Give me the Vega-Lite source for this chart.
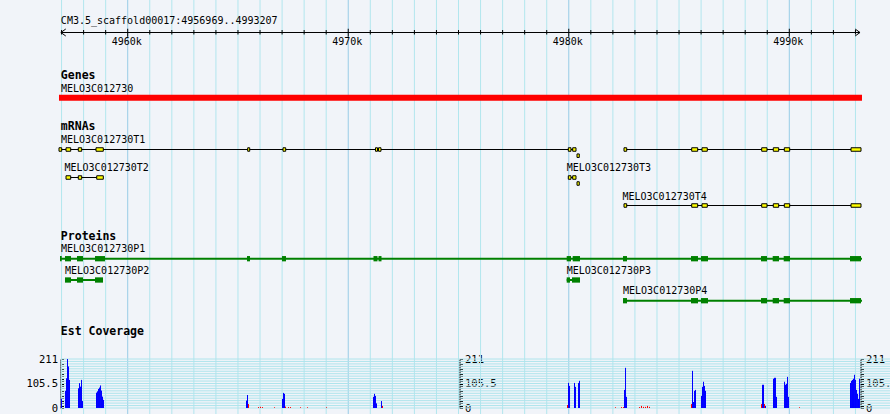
{
  "$schema": "https://vega.github.io/schema/vega-lite/v6.json",
  "width": 890,
  "height": 414,
  "autosize": {"type": "none"},
  "padding": 0,
  "background": "#f1f4f9",
  "config": {"view": {"stroke": null}, "text": {"font": "DejaVu Sans Mono"}, "axis": {"labelFont": "DejaVu Sans Mono"}, "scale": {"continuousPadding": 0}},
  "datasets": {
    "region": [{"chrom": "CM3.5_scaffold00017", "start": 4956969, "end": 4993207, "label": "CM3.5_scaffold00017:4956969..4993207"}],
    "rulerticks": [{"pos":4957000},{"pos":4958000},{"pos":4959000},{"pos":4960000,"label":"4960k"},{"pos":4961000},{"pos":4962000},{"pos":4963000},{"pos":4964000},{"pos":4965000},{"pos":4966000},{"pos":4967000},{"pos":4968000},{"pos":4969000},{"pos":4970000,"label":"4970k"},{"pos":4971000},{"pos":4972000},{"pos":4973000},{"pos":4974000},{"pos":4975000},{"pos":4976000},{"pos":4977000},{"pos":4978000},{"pos":4979000},{"pos":4980000,"label":"4980k"},{"pos":4981000},{"pos":4982000},{"pos":4983000},{"pos":4984000},{"pos":4985000},{"pos":4986000},{"pos":4987000},{"pos":4988000},{"pos":4989000},{"pos":4990000,"label":"4990k"},{"pos":4991000},{"pos":4992000},{"pos":4993000}],
    "genes": [{"name": "MELO3C012730", "start": 4956884, "end": 4993296}],
    "mrnas": [
      {"tx": "T1", "name": "MELO3C012730T1", "start": 4956884, "end": 4993251},
      {"tx": "T2", "name": "MELO3C012730T2", "start": 4957202, "end": 4958893},
      {"tx": "T3", "name": "MELO3C012730T3", "start": 4979979, "end": 4980477},
      {"tx": "T4", "name": "MELO3C012730T4", "start": 4982504, "end": 4993251}
    ],
    "tx_segments": [
      {"tx": "T1", "start": 4956884, "end": 4980328},
      {"tx": "T1", "start": 4982504, "end": 4993251},
      {"tx": "T2", "start": 4957202, "end": 4958893},
      {"tx": "T3", "start": 4979979, "end": 4980328},
      {"tx": "T4", "start": 4982504, "end": 4993251}
    ],
    "exons": [
      {"tx":"T1","start":4956884,"end":4957007},
      {"tx":"T1","start":4957202,"end":4957415},
      {"tx":"T1","start":4957760,"end":4957914},
      {"tx":"T1","start":4958562,"end":4958893},
      {"tx":"T1","start":4965441,"end":4965532},
      {"tx":"T1","start":4967042,"end":4967164},
      {"tx":"T1","start":4971236,"end":4971327},
      {"tx":"T1","start":4971372,"end":4971485},
      {"tx":"T1","start":4979979,"end":4980101},
      {"tx":"T1","start":4980178,"end":4980328},
      {"tx":"T1","start":4980373,"end":4980477,"drop":true},
      {"tx":"T1","start":4982504,"end":4982627},
      {"tx":"T1","start":4985574,"end":4985846},
      {"tx":"T1","start":4986041,"end":4986282},
      {"tx":"T1","start":4988748,"end":4988989},
      {"tx":"T1","start":4989274,"end":4989519},
      {"tx":"T1","start":4989773,"end":4990018},
      {"tx":"T1","start":4992798,"end":4993251},
      {"tx":"T2","start":4957202,"end":4957415},
      {"tx":"T2","start":4957760,"end":4957914},
      {"tx":"T2","start":4958594,"end":4958893},
      {"tx":"T3","start":4979979,"end":4980101},
      {"tx":"T3","start":4980178,"end":4980328},
      {"tx":"T3","start":4980373,"end":4980477,"drop":true},
      {"tx":"T4","start":4982504,"end":4982627},
      {"tx":"T4","start":4985574,"end":4985846},
      {"tx":"T4","start":4986041,"end":4986282},
      {"tx":"T4","start":4988748,"end":4988989},
      {"tx":"T4","start":4989274,"end":4989519},
      {"tx":"T4","start":4989773,"end":4990018},
      {"tx":"T4","start":4992798,"end":4993251}
    ],
    "proteins": [
      {"tx": "P1", "name": "MELO3C012730P1", "start": 4956930, "end": 4993296},
      {"tx": "P2", "name": "MELO3C012730P2", "start": 4957156, "end": 4958880},
      {"tx": "P3", "name": "MELO3C012730P3", "start": 4979906, "end": 4980509},
      {"tx": "P4", "name": "MELO3C012730P4", "start": 4982459, "end": 4993296}
    ],
    "cds": [
      {"tx":"P1","start":4956930,"end":4957007},
      {"tx":"P1","start":4957156,"end":4957428},
      {"tx":"P1","start":4957701,"end":4957973},
      {"tx":"P1","start":4958517,"end":4958970},
      {"tx":"P1","start":4965409,"end":4965545},
      {"tx":"P1","start":4966996,"end":4967178},
      {"tx":"P1","start":4971145,"end":4971327},
      {"tx":"P1","start":4971372,"end":4971508},
      {"tx":"P1","start":4979906,"end":4980101},
      {"tx":"P1","start":4980178,"end":4980509},
      {"tx":"P1","start":4982459,"end":4982640},
      {"tx":"P1","start":4985542,"end":4985860},
      {"tx":"P1","start":4985996,"end":4986313},
      {"tx":"P1","start":4988717,"end":4988989},
      {"tx":"P1","start":4989247,"end":4989533},
      {"tx":"P1","start":4989746,"end":4990032},
      {"tx":"P1","start":4992752,"end":4993251},
      {"tx":"P2","start":4957156,"end":4957428},
      {"tx":"P2","start":4957701,"end":4957973},
      {"tx":"P2","start":4958517,"end":4958880},
      {"tx":"P3","start":4979906,"end":4980056},
      {"tx":"P3","start":4980146,"end":4980509},
      {"tx":"P4","start":4982459,"end":4982640},
      {"tx":"P4","start":4985542,"end":4985860},
      {"tx":"P4","start":4985996,"end":4986313},
      {"tx":"P4","start":4988717,"end":4988989},
      {"tx":"P4","start":4989247,"end":4989533},
      {"tx":"P4","start":4989746,"end":4990032},
      {"tx":"P4","start":4992752,"end":4993251}
    ],
    "covticks": [{"v":0},{"v":10.55},{"v":21.1},{"v":31.65},{"v":42.2},{"v":52.75},{"v":63.3},{"v":73.85},{"v":84.4},{"v":94.95},{"v":105.5},{"v":116.05},{"v":126.6},{"v":137.15},{"v":147.7},{"v":158.25},{"v":168.8},{"v":179.35},{"v":189.9},{"v":200.45},{"v":211}],
    "coverage": [
      {"pos":4956998,"cov":40,"strand":"+"},
      {"pos":4957179,"cov":74,"strand":"+"},
      {"pos":4957225,"cov":128,"strand":"+"},
      {"pos":4957270,"cov":211,"strand":"+"},
      {"pos":4957316,"cov":179,"strand":"+"},
      {"pos":4957361,"cov":121,"strand":"+"},
      {"pos":4957769,"cov":85,"strand":"+"},
      {"pos":4957814,"cov":107,"strand":"+"},
      {"pos":4957860,"cov":92,"strand":"+"},
      {"pos":4957905,"cov":121,"strand":"+"},
      {"pos":4957950,"cov":30,"strand":"+"},
      {"pos":4958585,"cov":66,"strand":"+"},
      {"pos":4958630,"cov":72,"strand":"+"},
      {"pos":4958676,"cov":82,"strand":"+"},
      {"pos":4958721,"cov":88,"strand":"+"},
      {"pos":4958767,"cov":97,"strand":"+"},
      {"pos":4958812,"cov":75,"strand":"+"},
      {"pos":4958857,"cov":49,"strand":"+"},
      {"pos":4958903,"cov":35,"strand":"+"},
      {"pos":4965387,"cov":32,"strand":"+"},
      {"pos":4965432,"cov":56,"strand":"+"},
      {"pos":4967019,"cov":39,"strand":"+"},
      {"pos":4967065,"cov":65,"strand":"+"},
      {"pos":4967110,"cov":61,"strand":"+"},
      {"pos":4971146,"cov":48,"strand":"+"},
      {"pos":4971191,"cov":61,"strand":"+"},
      {"pos":4971236,"cov":52,"strand":"+"},
      {"pos":4971282,"cov":20,"strand":"+"},
      {"pos":4971508,"cov":30,"strand":"+"},
      {"pos":4979988,"cov":108,"strand":"+"},
      {"pos":4980034,"cov":95,"strand":"+"},
      {"pos":4980260,"cov":108,"strand":"+"},
      {"pos":4980306,"cov":91,"strand":"+"},
      {"pos":4980442,"cov":108,"strand":"+"},
      {"pos":4980487,"cov":117,"strand":"+"},
      {"pos":4982527,"cov":78,"strand":"+"},
      {"pos":4982573,"cov":173,"strand":"+"},
      {"pos":4982618,"cov":48,"strand":"+"},
      {"pos":4985611,"cov":160,"strand":"+"},
      {"pos":4985656,"cov":26,"strand":"+"},
      {"pos":4985701,"cov":74,"strand":"+"},
      {"pos":4985747,"cov":78,"strand":"+"},
      {"pos":4986019,"cov":52,"strand":"+"},
      {"pos":4986064,"cov":91,"strand":"+"},
      {"pos":4986110,"cov":113,"strand":"+"},
      {"pos":4986155,"cov":95,"strand":"+"},
      {"pos":4986200,"cov":74,"strand":"+"},
      {"pos":4988785,"cov":100,"strand":"+"},
      {"pos":4988830,"cov":100,"strand":"+"},
      {"pos":4988921,"cov":9,"strand":"+"},
      {"pos":4989284,"cov":126,"strand":"+"},
      {"pos":4989329,"cov":130,"strand":"+"},
      {"pos":4989374,"cov":130,"strand":"+"},
      {"pos":4989420,"cov":48,"strand":"+"},
      {"pos":4989783,"cov":113,"strand":"+"},
      {"pos":4989828,"cov":100,"strand":"+"},
      {"pos":4989873,"cov":104,"strand":"+"},
      {"pos":4989919,"cov":134,"strand":"+"},
      {"pos":4989964,"cov":48,"strand":"+"},
      {"pos":4992775,"cov":108,"strand":"+"},
      {"pos":4992821,"cov":117,"strand":"+"},
      {"pos":4992866,"cov":121,"strand":"+"},
      {"pos":4992911,"cov":126,"strand":"+"},
      {"pos":4992957,"cov":143,"strand":"+"},
      {"pos":4993002,"cov":121,"strand":"+"},
      {"pos":4993048,"cov":78,"strand":"+"},
      {"pos":4993093,"cov":61,"strand":"+"},
      {"pos":4993138,"cov":39,"strand":"+"},
      {"pos":4993184,"cov":126,"strand":"+"},
      {"pos":4965478,"cov":17,"strand":"-"},
      {"pos":4965931,"cov":4,"strand":"-"},
      {"pos":4966022,"cov":5,"strand":"-"},
      {"pos":4966112,"cov":4,"strand":"-"},
      {"pos":4966657,"cov":3,"strand":"-"},
      {"pos":4967155,"cov":6,"strand":"-"},
      {"pos":4967291,"cov":4,"strand":"-"},
      {"pos":4967382,"cov":4,"strand":"-"},
      {"pos":4967836,"cov":3,"strand":"-"},
      {"pos":4968153,"cov":3,"strand":"-"},
      {"pos":4969015,"cov":3,"strand":"-"},
      {"pos":4971554,"cov":9,"strand":"-"},
      {"pos":4979943,"cov":13,"strand":"-"},
      {"pos":4982119,"cov":3,"strand":"-"},
      {"pos":4982391,"cov":4,"strand":"-"},
      {"pos":4982482,"cov":4,"strand":"-"},
      {"pos":4983208,"cov":4,"strand":"-"},
      {"pos":4983298,"cov":9,"strand":"-"},
      {"pos":4983389,"cov":5,"strand":"-"},
      {"pos":4983480,"cov":5,"strand":"-"},
      {"pos":4983570,"cov":9,"strand":"-"},
      {"pos":4983661,"cov":5,"strand":"-"},
      {"pos":4985565,"cov":17,"strand":"-"},
      {"pos":4988740,"cov":17,"strand":"-"},
      {"pos":4988876,"cov":17,"strand":"-"},
      {"pos":4990463,"cov":3,"strand":"-"}
    ]
  },
  "resolve": {"scale": {"y": "independent"}},
  "layer": [
    {
      "layer": [
        {
          "data": {"name": "rulerticks"},
          "mark": {"type": "rule", "strokeWidth": 1},
          "encoding": {
            "x": {"field": "pos", "type": "quantitative",
              "scale": {"domain": [4954209, 4994566], "nice": false, "zero": false, "padding": 0}, "axis": null},
            "y": {"datum": 0, "type": "quantitative", "scale": {"domain": [414, 0], "nice": false, "zero": false, "padding": 0}, "axis": null},
            "y2": {"datum": 414},
            "color": {"condition": {"test": "datum.pos % 10000 === 0", "value": "#98cce6"}, "value": "#b2e6ee"}
          }
        },
        {
          "data": {"name": "genes"},
          "mark": {"type": "bar", "color": "#ff0000", "size": 6},
          "encoding": {
            "x": {"field": "start", "type": "quantitative", "axis": null},
            "x2": {"field": "end"},
            "y": {"datum": 97.8, "type": "quantitative"}
          }
        },
        {
          "data": {"name": "genes"},
          "mark": {"type": "text", "align": "left", "baseline": "middle", "fontSize": 10, "dx": 2, "color": "#000000"},
          "encoding": {
            "x": {"field": "start", "type": "quantitative", "axis": null},
            "y": {"datum": 88.5, "type": "quantitative"},
            "text": {"field": "name"}
          }
        },
        {
          "data": {"name": "region"},
          "mark": {"type": "rule", "color": "#000000", "strokeWidth": 1},
          "encoding": {
            "x": {"field": "start", "type": "quantitative", "axis": null},
            "x2": {"field": "end"},
            "y": {"datum": 32.5, "type": "quantitative"}
          }
        },
        {
          "data": {"name": "region"},
          "mark": {"type": "text", "align": "left", "baseline": "middle", "fontSize": 10, "color": "#000000"},
          "encoding": {
            "x": {"field": "start", "type": "quantitative", "axis": null},
            "y": {"datum": 21, "type": "quantitative"},
            "text": {"field": "label"}
          }
        },
        {
          "data": {"name": "region"},
          "mark": {"type": "point", "shape": "M 1.4 -1 L 0 0 L 1.4 1", "filled": false, "stroke": "#000000", "strokeWidth": 1, "size": 49, "opacity": 1},
          "encoding": {
            "x": {"field": "start", "type": "quantitative", "axis": null},
            "y": {"datum": 32.5, "type": "quantitative"}
          }
        },
        {
          "data": {"name": "region"},
          "mark": {"type": "point", "shape": "M -1.4 -1 L 0 0 L -1.4 1", "filled": false, "stroke": "#000000", "strokeWidth": 1, "size": 49, "opacity": 1},
          "encoding": {
            "x": {"field": "end", "type": "quantitative", "axis": null},
            "y": {"datum": 32.5, "type": "quantitative"}
          }
        },
        {
          "data": {"name": "rulerticks"},
          "transform": [{"filter": "datum.pos % 10000 !== 0"}],
          "mark": {"type": "tick", "orient": "vertical", "size": 4.6, "thickness": 1, "color": "#000000", "opacity": 1},
          "encoding": {
            "x": {"field": "pos", "type": "quantitative", "axis": null},
            "y": {"datum": 32.3, "type": "quantitative"}
          }
        },
        {
          "data": {"name": "rulerticks"},
          "transform": [{"filter": "datum.pos % 10000 === 0"}],
          "mark": {"type": "tick", "orient": "vertical", "size": 8, "thickness": 1, "color": "#000000", "opacity": 1},
          "encoding": {
            "x": {"field": "pos", "type": "quantitative", "axis": null},
            "y": {"datum": 32.7, "type": "quantitative"}
          }
        },
        {
          "data": {"name": "rulerticks"},
          "transform": [{"filter": "datum.pos % 10000 === 0"}],
          "mark": {"type": "text", "align": "center", "baseline": "middle", "fontSize": 10, "dx": -1, "color": "#000000"},
          "encoding": {
            "x": {"field": "pos", "type": "quantitative", "axis": null},
            "y": {"datum": 42, "type": "quantitative"},
            "text": {"field": "label"}
          }
        },
        {
          "data": {"values": [{"track": "Genes"}]},
          "mark": {"type": "text", "align": "left", "baseline": "middle", "fontSize": 11.5, "fontWeight": "bold", "color": "#000000"},
          "encoding": {"x": {"datum": 4956969, "type": "quantitative", "axis": null}, "y": {"datum": 76.3, "type": "quantitative"}, "text": {"field": "track"}}
        },
        {
          "data": {"values": [{"track": "mRNAs"}]},
          "mark": {"type": "text", "align": "left", "baseline": "middle", "fontSize": 11.5, "fontWeight": "bold", "color": "#000000"},
          "encoding": {"x": {"datum": 4956969, "type": "quantitative", "axis": null}, "y": {"datum": 127.3, "type": "quantitative"}, "text": {"field": "track"}}
        },
        {
          "data": {"values": [{"track": "Proteins"}]},
          "mark": {"type": "text", "align": "left", "baseline": "middle", "fontSize": 11.5, "fontWeight": "bold", "color": "#000000"},
          "encoding": {"x": {"datum": 4956969, "type": "quantitative", "axis": null}, "y": {"datum": 236.7, "type": "quantitative"}, "text": {"field": "track"}}
        },
        {
          "data": {"values": [{"track": "Est Coverage"}]},
          "mark": {"type": "text", "align": "left", "baseline": "middle", "fontSize": 11.5, "fontWeight": "bold", "color": "#000000"},
          "encoding": {"x": {"datum": 4956969, "type": "quantitative", "axis": null}, "y": {"datum": 332.3, "type": "quantitative"}, "text": {"field": "track"}}
        },
        {
          "data": {"name": "tx_segments"},
          "transform": [{"filter": "datum.tx === 'T1'"}],
          "mark": {"type": "rule", "color": "#000000", "strokeWidth": 1},
          "encoding": {"x": {"field": "start", "type": "quantitative", "axis": null}, "x2": {"field": "end"}, "y": {"datum": 149.5, "type": "quantitative"}}
        },
        {
          "data": {"name": "tx_segments"},
          "transform": [{"filter": "datum.tx === 'T2' || datum.tx === 'T3'"}],
          "mark": {"type": "rule", "color": "#000000", "strokeWidth": 1},
          "encoding": {"x": {"field": "start", "type": "quantitative", "axis": null}, "x2": {"field": "end"}, "y": {"datum": 177.5, "type": "quantitative"}}
        },
        {
          "data": {"name": "tx_segments"},
          "transform": [{"filter": "datum.tx === 'T4'"}],
          "mark": {"type": "rule", "color": "#000000", "strokeWidth": 1},
          "encoding": {"x": {"field": "start", "type": "quantitative", "axis": null}, "x2": {"field": "end"}, "y": {"datum": 205.5, "type": "quantitative"}}
        },
        {
          "mark": {"type": "rule", "color": "#000000", "strokeWidth": 1},
          "encoding": {"x": {"datum": 4980328, "type": "quantitative", "axis": null}, "x2": {"datum": 4980418}, "y": {"datum": 149.5, "type": "quantitative"}, "y2": {"datum": 155.7}}
        },
        {
          "mark": {"type": "rule", "color": "#000000", "strokeWidth": 1},
          "encoding": {"x": {"datum": 4980477, "type": "quantitative", "axis": null}, "x2": {"datum": 4982504}, "y": {"datum": 155.7, "type": "quantitative"}, "y2": {"datum": 149.5}}
        },
        {
          "mark": {"type": "rule", "color": "#000000", "strokeWidth": 1},
          "encoding": {"x": {"datum": 4980328, "type": "quantitative", "axis": null}, "x2": {"datum": 4980418}, "y": {"datum": 177.5, "type": "quantitative"}, "y2": {"datum": 183.5}}
        },
        {
          "data": {"name": "exons"},
          "transform": [{"filter": "datum.tx === 'T1' && !datum.drop"}],
          "mark": {"type": "bar", "color": "#ffff00", "stroke": "#000000", "strokeWidth": 1, "size": 3.5},
          "encoding": {"x": {"field": "start", "type": "quantitative", "axis": null}, "x2": {"field": "end"}, "y": {"datum": 149.5, "type": "quantitative"}}
        },
        {
          "data": {"name": "exons"},
          "transform": [{"filter": "datum.tx === 'T1' && datum.drop"}],
          "mark": {"type": "bar", "color": "#ffff00", "stroke": "#000000", "strokeWidth": 1, "size": 3.5},
          "encoding": {"x": {"field": "start", "type": "quantitative", "axis": null}, "x2": {"field": "end"}, "y": {"datum": 155.7, "type": "quantitative"}}
        },
        {
          "data": {"name": "exons"},
          "transform": [{"filter": "(datum.tx === 'T2' || datum.tx === 'T3') && !datum.drop"}],
          "mark": {"type": "bar", "color": "#ffff00", "stroke": "#000000", "strokeWidth": 1, "size": 3.5},
          "encoding": {"x": {"field": "start", "type": "quantitative", "axis": null}, "x2": {"field": "end"}, "y": {"datum": 177.5, "type": "quantitative"}}
        },
        {
          "data": {"name": "exons"},
          "transform": [{"filter": "datum.tx === 'T3' && datum.drop"}],
          "mark": {"type": "bar", "color": "#ffff00", "stroke": "#000000", "strokeWidth": 1, "size": 3.5},
          "encoding": {"x": {"field": "start", "type": "quantitative", "axis": null}, "x2": {"field": "end"}, "y": {"datum": 183.5, "type": "quantitative"}}
        },
        {
          "data": {"name": "exons"},
          "transform": [{"filter": "datum.tx === 'T4'"}],
          "mark": {"type": "bar", "color": "#ffff00", "stroke": "#000000", "strokeWidth": 1, "size": 3.5},
          "encoding": {"x": {"field": "start", "type": "quantitative", "axis": null}, "x2": {"field": "end"}, "y": {"datum": 205.5, "type": "quantitative"}}
        },
        {
          "data": {"name": "mrnas"},
          "transform": [{"filter": "datum.tx === 'T1'"}],
          "mark": {"type": "text", "align": "left", "baseline": "middle", "fontSize": 10, "dx": 2, "color": "#000000"},
          "encoding": {"x": {"field": "start", "type": "quantitative", "axis": null}, "y": {"datum": 140.2, "type": "quantitative"}, "text": {"field": "name"}}
        },
        {
          "data": {"name": "mrnas"},
          "transform": [{"filter": "datum.tx === 'T2' || datum.tx === 'T3'"}],
          "mark": {"type": "text", "align": "left", "baseline": "middle", "fontSize": 10, "dx": -1.5, "color": "#000000"},
          "encoding": {"x": {"field": "start", "type": "quantitative", "axis": null}, "y": {"datum": 168.3, "type": "quantitative"}, "text": {"field": "name"}}
        },
        {
          "data": {"name": "mrnas"},
          "transform": [{"filter": "datum.tx === 'T4'"}],
          "mark": {"type": "text", "align": "left", "baseline": "middle", "fontSize": 10, "dx": -1.5, "color": "#000000"},
          "encoding": {"x": {"field": "start", "type": "quantitative", "axis": null}, "y": {"datum": 196.7, "type": "quantitative"}, "text": {"field": "name"}}
        },
        {
          "data": {"name": "proteins"},
          "transform": [{"filter": "datum.tx === 'P1'"}],
          "mark": {"type": "rule", "color": "#008000", "strokeWidth": 2},
          "encoding": {"x": {"field": "start", "type": "quantitative", "axis": null}, "x2": {"field": "end"}, "y": {"datum": 258.7, "type": "quantitative"}}
        },
        {
          "data": {"name": "proteins"},
          "transform": [{"filter": "datum.tx === 'P2' || datum.tx === 'P3'"}],
          "mark": {"type": "rule", "color": "#008000", "strokeWidth": 2},
          "encoding": {"x": {"field": "start", "type": "quantitative", "axis": null}, "x2": {"field": "end"}, "y": {"datum": 280, "type": "quantitative"}}
        },
        {
          "data": {"name": "proteins"},
          "transform": [{"filter": "datum.tx === 'P4'"}],
          "mark": {"type": "rule", "color": "#008000", "strokeWidth": 2},
          "encoding": {"x": {"field": "start", "type": "quantitative", "axis": null}, "x2": {"field": "end"}, "y": {"datum": 300.7, "type": "quantitative"}}
        },
        {
          "data": {"name": "cds"},
          "transform": [{"filter": "datum.tx === 'P1'"}],
          "mark": {"type": "bar", "color": "#008000", "size": 5.3},
          "encoding": {"x": {"field": "start", "type": "quantitative", "axis": null}, "x2": {"field": "end"}, "y": {"datum": 258.7, "type": "quantitative"}}
        },
        {
          "data": {"name": "cds"},
          "transform": [{"filter": "datum.tx === 'P2' || datum.tx === 'P3'"}],
          "mark": {"type": "bar", "color": "#008000", "size": 5.3},
          "encoding": {"x": {"field": "start", "type": "quantitative", "axis": null}, "x2": {"field": "end"}, "y": {"datum": 280, "type": "quantitative"}}
        },
        {
          "data": {"name": "cds"},
          "transform": [{"filter": "datum.tx === 'P4'"}],
          "mark": {"type": "bar", "color": "#008000", "size": 5.3},
          "encoding": {"x": {"field": "start", "type": "quantitative", "axis": null}, "x2": {"field": "end"}, "y": {"datum": 300.7, "type": "quantitative"}}
        },
        {
          "data": {"name": "proteins"},
          "transform": [{"filter": "datum.tx === 'P1'"}],
          "mark": {"type": "text", "align": "left", "baseline": "middle", "fontSize": 10, "dx": 1, "color": "#000000"},
          "encoding": {"x": {"field": "start", "type": "quantitative", "axis": null}, "y": {"datum": 249.3, "type": "quantitative"}, "text": {"field": "name"}}
        },
        {
          "data": {"name": "proteins"},
          "transform": [{"filter": "datum.tx === 'P2' || datum.tx === 'P3'"}],
          "mark": {"type": "text", "align": "left", "baseline": "middle", "fontSize": 10, "color": "#000000"},
          "encoding": {"x": {"field": "start", "type": "quantitative", "axis": null}, "y": {"datum": 270.7, "type": "quantitative"}, "text": {"field": "name"}}
        },
        {
          "data": {"name": "proteins"},
          "transform": [{"filter": "datum.tx === 'P4'"}],
          "mark": {"type": "text", "align": "left", "baseline": "middle", "fontSize": 10, "color": "#000000"},
          "encoding": {"x": {"field": "start", "type": "quantitative", "axis": null}, "y": {"datum": 291, "type": "quantitative"}, "text": {"field": "name"}}
        }
      ]
    },
    {
      "resolve": {"axis": {"y": "independent"}},
      "layer": [
        {
          "data": {"name": "covticks"},
          "mark": {"type": "rule", "color": "#aee4ec", "strokeWidth": 1},
          "encoding": {
            "x": {"datum": 4956961, "type": "quantitative", "axis": null},
            "x2": {"datum": 4994566},
            "y": {"field": "v", "type": "quantitative", "scale": {"domain": [0, 211], "range": [408, 359], "nice": false, "zero": false, "padding": 0},
              "axis": {"orient": "left", "offset": -60.5, "title": null, "grid": false,
                "values": [0,10.55,21.1,31.65,42.2,52.75,63.3,73.85,84.4,94.95,105.5,116.05,126.6,137.15,147.7,158.25,168.8,179.35,189.9,200.45,211],
                "labelExpr": "datum.value == 0 ? '0' : datum.value == 105.5 ? '105.5' : datum.value == 211 ? '211' : ''",
                "tickSize": -3, "tickColor": "#000000", "domainColor": "#000000", "labelColor": "#000000", "labelFontSize": 10.5, "labelPadding": 6,
                "labelOverlap": false, "labelFlush": false, "labelBound": false, "labelBaseline": "middle"}}
          }
        },
        {
          "data": {"name": "coverage"},
          "transform": [{"filter": "datum.strand === '+'"}],
          "mark": {"type": "rule", "color": "#0000ff", "strokeWidth": 1},
          "encoding": {
            "x": {"field": "pos", "type": "quantitative", "axis": null},
            "y": {"field": "cov", "type": "quantitative",
              "axis": {"orient": "right", "offset": -430.5, "title": null, "grid": false,
                "values": [0,10.55,21.1,31.65,42.2,52.75,63.3,73.85,84.4,94.95,105.5,116.05,126.6,137.15,147.7,158.25,168.8,179.35,189.9,200.45,211],
                "labelExpr": "datum.value == 0 ? '0' : datum.value == 105.5 ? '105.5' : datum.value == 211 ? '211' : ''",
                "tickSize": 3, "tickColor": "#000000", "domainColor": "#000000", "labelColor": "#000000", "labelFontSize": 10.5, "labelPadding": 2,
                "labelOverlap": false, "labelFlush": false, "labelBound": false, "labelBaseline": "middle"}},
            "y2": {"datum": 0}
          }
        },
        {
          "data": {"name": "coverage"},
          "transform": [{"filter": "datum.strand === '-'"}],
          "mark": {"type": "rule", "color": "#ff0000", "strokeWidth": 1},
          "encoding": {
            "x": {"field": "pos", "type": "quantitative", "axis": null},
            "y": {"field": "cov", "type": "quantitative",
              "axis": {"orient": "right", "offset": -29.5, "title": null, "grid": false,
                "values": [0,10.55,21.1,31.65,42.2,52.75,63.3,73.85,84.4,94.95,105.5,116.05,126.6,137.15,147.7,158.25,168.8,179.35,189.9,200.45,211],
                "labelExpr": "datum.value == 0 ? '0' : datum.value == 105.5 ? '105.5' : datum.value == 211 ? '211' : ''",
                "tickSize": 3, "tickColor": "#000000", "domainColor": "#000000", "labelColor": "#000000", "labelFontSize": 10.5, "labelPadding": 2,
                "labelOverlap": false, "labelFlush": false, "labelBound": false, "labelBaseline": "middle"}},
            "y2": {"datum": 0}
          }
        }
      ]
    }
  ]
}
